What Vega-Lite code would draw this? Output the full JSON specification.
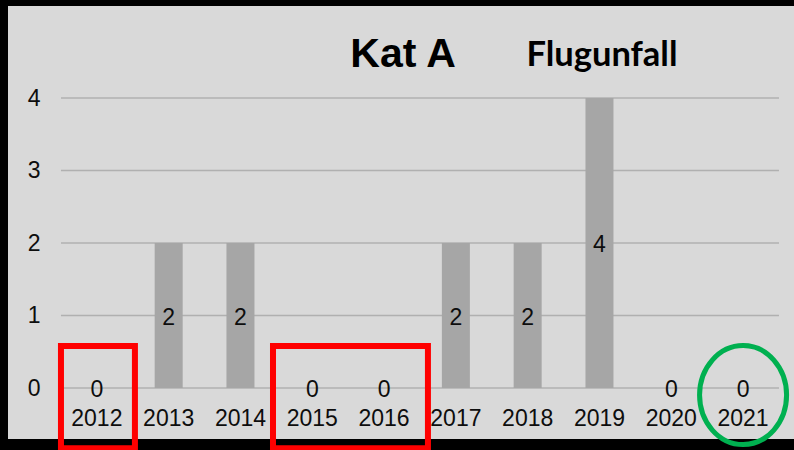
{
  "$schema": "https://vega.github.io/schema/vega-lite/v6.json",
  "width": 786,
  "height": 433,
  "autosize": {"type": "none"},
  "padding": {"left": 8, "top": 6, "right": 0, "bottom": 11},
  "background": "#000000",
  "config": {
    "view": {"fill": "#d9d9d9", "stroke": null},
    "font": "Liberation Sans",
    "axisX": {"domain": false, "ticks": false, "grid": false, "labelFontSize": 23, "labelColor": "#0d0d0d", "labelPadding": 0, "labelBaseline": "alphabetic", "offset": -14, "labelAngle": 0, "labelOverlap": false, "labelFlush": false, "labelFont": "Liberation Sans"},
    "axisY": {"domain": false, "ticks": false, "grid": false, "labelFontSize": 23, "labelColor": "#0d0d0d", "labelPadding": 0, "offset": -32, "labelFont": "Liberation Sans", "format": "d"}
  },
  "layer": [
    {
      "data": {"values": [{"v": 0, "a": "2012", "b": "2021"}, {"v": 1, "a": "2012", "b": "2021"}, {"v": 2, "a": "2012", "b": "2021"}, {"v": 3, "a": "2012", "b": "2021"}, {"v": 4, "a": "2012", "b": "2021"}]},
      "mark": {"type": "rule", "color": "#b0b0b0", "strokeWidth": 1.5},
      "encoding": {
        "x": {"field": "a", "type": "nominal", "bandPosition": 0, "title": null, "scale": {"type": "band", "domain": ["2012","2013","2014","2015","2016","2017","2018","2019","2020","2021"], "paddingInner": 0, "paddingOuter": 0.4735, "align": 0.779}},
        "x2": {"field": "b", "bandPosition": 1},
        "y": {"field": "v", "type": "quantitative", "title": null, "scale": {"domain": [-0.7034, 5.269], "nice": false, "zero": false}}
      }
    },
    {
      "data": {"values": [
        {"year": "2012", "value": 0}, {"year": "2013", "value": 2}, {"year": "2014", "value": 2},
        {"year": "2015", "value": 0}, {"year": "2016", "value": 0}, {"year": "2017", "value": 2},
        {"year": "2018", "value": 2}, {"year": "2019", "value": 4}, {"year": "2020", "value": 0},
        {"year": "2021", "value": 0}
      ]},
      "layer": [
        {
          "mark": {"type": "bar", "color": "#a6a6a6", "width": {"band": 0.39}},
          "encoding": {
            "x": {"field": "year", "type": "nominal", "title": null},
            "y": {"field": "value", "type": "quantitative", "title": null, "axis": {"values": [0, 1, 2, 3, 4]}}
          }
        },
        {
          "transform": [{"calculate": "datum.value / 2", "as": "mid"}],
          "mark": {"type": "text", "fontSize": 23, "color": "#0d0d0d", "baseline": "middle", "dy": 2},
          "encoding": {
            "x": {"field": "year", "type": "nominal", "title": null},
            "y": {"field": "mid", "type": "quantitative", "title": null},
            "text": {"field": "value", "type": "quantitative"}
          }
        }
      ]
    },
    {
      "data": {"values": [{"label": "Kat A"}]},
      "mark": {"type": "text", "font": "Liberation Sans", "fontWeight": "bold", "fontSize": 41, "color": "#000000", "align": "center", "baseline": "alphabetic", "dx": 19},
      "encoding": {
        "x": {"datum": "2016", "type": "nominal", "title": null},
        "y": {"datum": 4.43, "type": "quantitative", "title": null},
        "text": {"field": "label"}
      }
    },
    {
      "data": {"values": [{"label": "Flugunfall"}]},
      "mark": {"type": "text", "font": "Lato", "fontWeight": "bold", "fontSize": 34.5, "color": "#000000", "align": "center", "baseline": "alphabetic", "dx": 2.5},
      "encoding": {
        "x": {"datum": "2019", "type": "nominal", "title": null},
        "y": {"datum": 4.44, "type": "quantitative", "title": null},
        "text": {"field": "label"}
      }
    },
    {
      "data": {"values": [{"a": "2012", "b": "2013", "top": 0.579, "bottom": -0.83}]},
      "mark": {"type": "rect", "filled": false, "stroke": "#ff0000", "strokeWidth": 6},
      "encoding": {
        "x": {"field": "a", "type": "nominal", "bandPosition": 0, "title": null},
        "x2": {"field": "b", "bandPosition": 0.03},
        "y": {"field": "top", "type": "quantitative", "title": null},
        "y2": {"field": "bottom"}
      }
    },
    {
      "data": {"values": [{"a": "2014", "b": "2017", "top": 0.579, "bottom": -0.83}]},
      "mark": {"type": "rect", "filled": false, "stroke": "#ff0000", "strokeWidth": 6},
      "encoding": {
        "x": {"field": "a", "type": "nominal", "bandPosition": 0.953, "title": null},
        "x2": {"field": "b", "bandPosition": 0.111},
        "y": {"field": "top", "type": "quantitative", "title": null},
        "y2": {"field": "bottom"}
      }
    },
    {
      "data": {"values": [{"mark": "2021"}]},
      "mark": {"type": "point", "filled": false, "stroke": "#00b050", "strokeWidth": 5, "opacity": 1, "size": 9801, "shape": "M-0.879,0A0.879,1,0,1,0,0.879,0A0.879,1,0,1,0,-0.879,0Z"},
      "encoding": {
        "x": {"datum": "2021", "type": "nominal", "title": null},
        "y": {"datum": -0.097, "type": "quantitative", "title": null}
      }
    }
  ]
}
